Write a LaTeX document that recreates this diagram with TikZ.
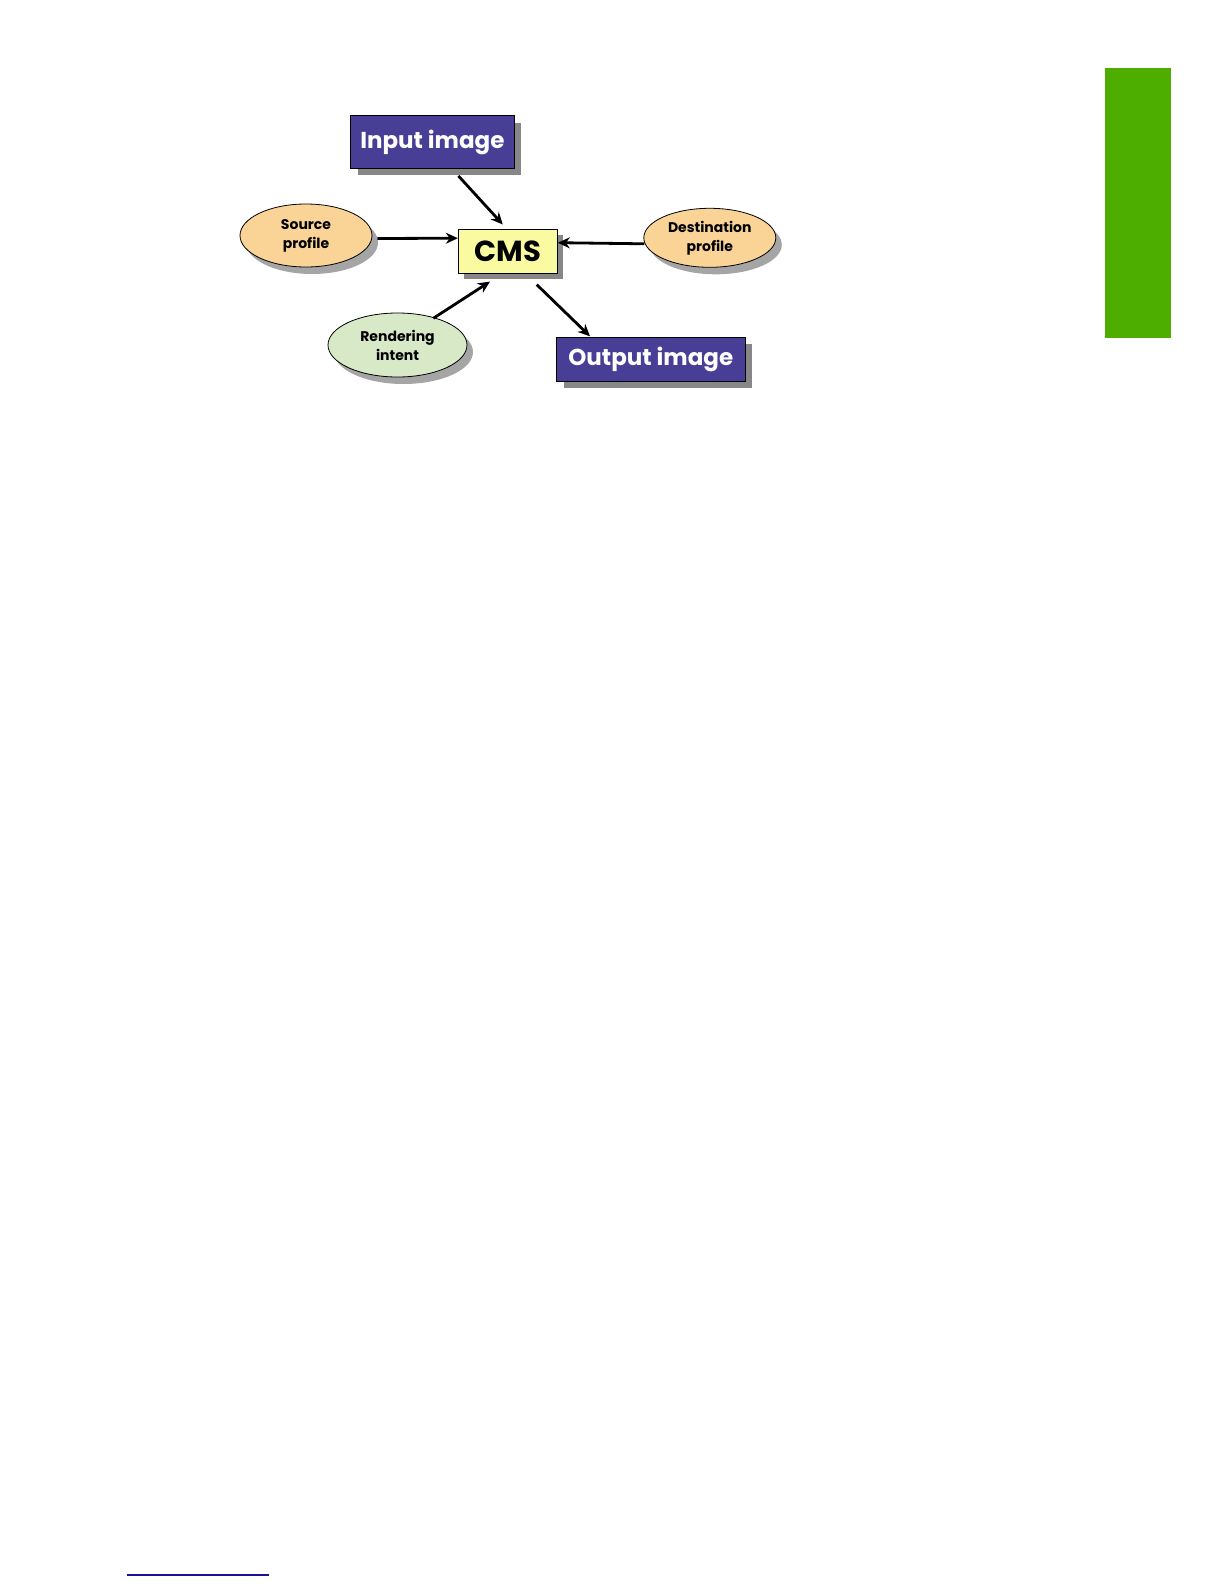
\documentclass[tikz,border=0pt]{standalone}
\usepackage{fontspec}
\setmainfont{Poppins}
\usetikzlibrary{shapes.geometric,arrows.meta,shadows}
\definecolor{boxblue}{RGB}{72,62,150}
\definecolor{cmsyellow}{RGB}{250,250,160}
\definecolor{peach}{RGB}{250,211,150}
\definecolor{palegreen}{RGB}{216,233,200}
\definecolor{barGreen}{RGB}{78,174,0}
\definecolor{linkblue}{RGB}{20,20,150}
\definecolor{shadowgray}{RGB}{135,135,135}
\tikzset{
  imgbox/.style 2 args={draw=black, line width=0.5pt, fill=boxblue, text=white,
    font=\bfseries\fontsize{11.5}{12}\selectfont, inner sep=0pt,
    minimum width=#1, minimum height=#2,
    drop shadow={shadow xshift=3.5pt, shadow yshift=-3.5pt, fill=shadowgray, opacity=1}},
  cmsbox/.style={draw=black, line width=0.5pt, fill=cmsyellow, text=black,
    font=\bfseries\fontsize{14.5}{15}\selectfont, inner sep=0pt,
    minimum width=49.5pt, minimum height=22.2pt,
    drop shadow={shadow xshift=3pt, shadow yshift=-3pt, fill=shadowgray, opacity=1}},
  profile/.style={ellipse, draw=black, line width=0.4pt, inner sep=0pt,
    font=\bfseries\fontsize{7}{9.5}\selectfont, align=center,
    drop shadow={shadow xshift=3pt, shadow yshift=-3.5pt, fill=shadowgray, opacity=0.75}},
  arr/.style={draw=black, line width=1.4pt, -{Stealth[length=6pt,width=5.5pt]}}
}
\begin{document}
\begin{tikzpicture}[x=0.5pt,y=-0.5pt]
\useasboundingbox (0,0) rectangle (1224,1584);
\fill[white] (0,0) rectangle (1224,1584);
% side tab
\fill[barGreen] (1105,67.7) rectangle (1170.7,338.3);
% bottom link line
\draw[linkblue, line width=0.7pt] (127,1575) -- (269,1575);
% nodes
\node[imgbox={81.7pt}{26.2pt}] (inp) at (432.4,142.2) {Input image};
\node[cmsbox] (cms) at (507.8,251.2) {CMS};
\node[imgbox={94.2pt}{21.8pt}] (out) at (650.8,359.2) {Output image};
\node[profile, fill=peach, minimum width=66pt, minimum height=31.5pt] (src) at (306,235.5) {Source\\profile};
\node[profile, fill=peach, minimum width=66pt, minimum height=29.5pt] (dst) at (709.8,237.8) {Destination\\profile};
\node[profile, fill=palegreen, minimum width=69.5pt, minimum height=32pt] (rnd) at (397.5,345) {Rendering\\intent};
% connectors
\draw[arr] ([shift={(26,7)}]inp.south) -- ([shift={(-5,-4)}]cms.north);
\draw[arr] ([shift={(5,3)}]src.east) -- ([shift={(0,-13)}]cms.west);
\draw[arr] ([shift={(1,6)}]dst.west) -- ([shift={(0,-8.5)}]cms.east);
\draw[arr] ([shift={(35.8,-26.7)}]rnd.center) -- ([shift={(-17.8,7.7)}]cms.south);
\draw[arr] ([shift={(28.9,10.7)}]cms.south) -- ([shift={(-60.8,-0.6)}]out.north);
\end{tikzpicture}
\end{document}
